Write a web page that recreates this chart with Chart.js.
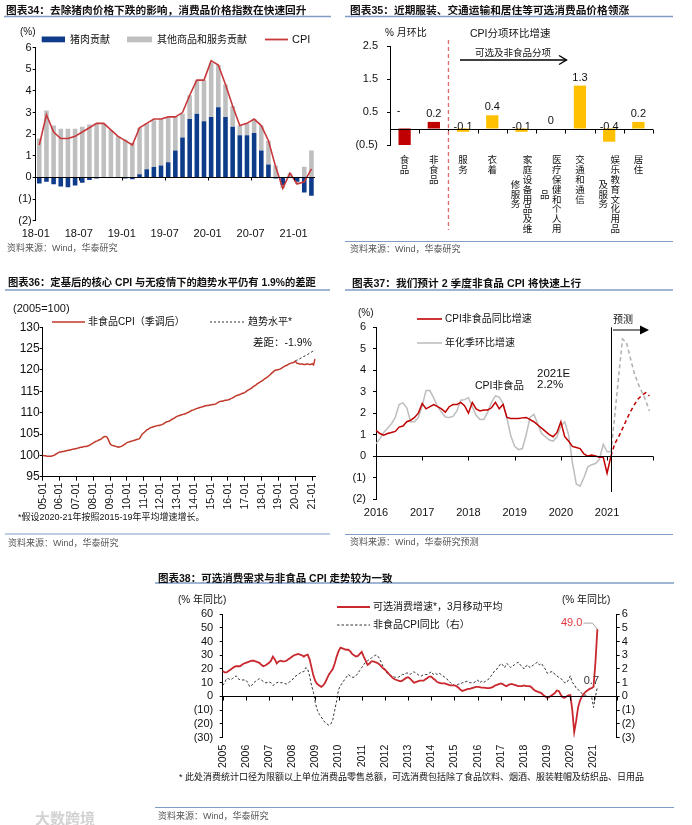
<!DOCTYPE html>
<html lang="zh-CN">
<head>
<meta charset="utf-8">
<title>CPI charts</title>
<script src="https://cdn.jsdelivr.net/npm/chart.js@4.4.1/dist/chart.umd.min.js"></script>
<style>
html,body{margin:0;padding:0;background:#fff;}
body{width:692px;height:825px;position:relative;overflow:hidden;font-family:"Liberation Sans","Noto Sans CJK SC",sans-serif;color:#111;}
canvas{position:absolute;}
.tx{position:absolute;white-space:nowrap;line-height:1;}
svg{position:absolute;left:0;top:0;}
</style>
</head>
<body>
<canvas id="c34" width="345" height="260" style="left:0;top:0;width:345px;height:260px"></canvas>
<canvas id="c35" width="347" height="260" style="left:345px;top:0;width:347px;height:260px"></canvas>
<canvas id="c36" width="345" height="265" style="left:0;top:265px;width:345px;height:265px"></canvas>
<canvas id="c37" width="347" height="265" style="left:345px;top:265px;width:347px;height:265px"></canvas>
<canvas id="c38" width="542" height="260" style="left:150px;top:565px;width:542px;height:260px"></canvas>
<svg width="692" height="825" viewBox="0 0 692 825">
  <g stroke="#7F9CC4" stroke-width="1.6">
    <line x1="4" y1="16.5" x2="331" y2="16.5"/>
    <line x1="345" y1="16.5" x2="673" y2="16.5"/>
    <line x1="5" y1="290" x2="330" y2="290"/>
    <line x1="345" y1="290" x2="673" y2="290"/>
    <line x1="155" y1="583" x2="674" y2="583"/>
  </g>
  <g stroke="#7F9CC4" stroke-width="1.2">
    <line x1="345" y1="241.5" x2="673" y2="241.5"/>
    <line x1="5" y1="534" x2="330" y2="534"/>
    <line x1="345" y1="534.5" x2="673" y2="534.5"/>
    <line x1="155" y1="807.5" x2="674" y2="807.5"/>
  </g>
  <rect x="41.7" y="36.5" width="23.3" height="5.8" fill="#0E3C8A"/>
  <rect x="127" y="36.5" width="25" height="5.8" fill="#BFBFBF"/>
  <line x1="265" y1="39.5" x2="288" y2="39.5" stroke="#C8383B" stroke-width="1.8"/>
  <line x1="460" y1="60" x2="566" y2="60" stroke="#000" stroke-width="1.4"/>
  <polyline points="559,55.5 566.5,60 559,64.5" fill="none" stroke="#000" stroke-width="1.4"/>
  <line x1="52" y1="322" x2="85" y2="322" stroke="#C0392B" stroke-width="1.5"/>
  <line x1="210" y1="322" x2="245" y2="322" stroke="#333" stroke-width="1" stroke-dasharray="2,2"/>
  <line x1="417" y1="319" x2="442" y2="319" stroke="#C00000" stroke-width="1.6"/>
  <line x1="417" y1="343" x2="442" y2="343" stroke="#BFBFBF" stroke-width="1.6"/>
  <line x1="613" y1="330" x2="642" y2="330" stroke="#000" stroke-width="1"/>
  <polygon points="649,330 640,325.5 640,334.5" fill="#000"/>
  <line x1="337" y1="607" x2="370" y2="607" stroke="#C8282E" stroke-width="1.8"/>
  <line x1="337" y1="625" x2="370" y2="625" stroke="#333" stroke-width="1" stroke-dasharray="2.5,2"/>
</svg>
<div id="texts"></div>
<script>
// ---------------- DATA ----------------
// Chart 34: monthly 2018-01 .. 2021-03
const c34Pork = [-0.28,-0.2,-0.32,-0.42,-0.45,-0.37,-0.25,-0.12,-0.05,-0.03,-0.02,-0.02,
  -0.05,-0.08,0.15,0.38,0.48,0.55,0.7,1.25,1.85,2.7,2.95,2.6,
  2.8,3.25,2.8,2.35,1.95,1.95,2.05,1.25,0.6,-0.05,-0.35,0.03,
  -0.2,-0.7,-0.85];
const c34Other = [1.8,3.1,2.4,2.25,2.25,2.25,2.35,2.45,2.5,2.5,2.2,1.9,
  1.75,1.6,2.15,2.12,2.17,2.15,2.05,1.55,1.1,1.1,1.55,1.9,
  2.5,1.95,1.5,0.95,0.45,0.55,0.65,1.15,1.1,0.55,-0.15,0.17,
  -0.1,0.5,1.25];
const c34CPI = [1.5,2.9,2.1,1.8,1.8,1.9,2.1,2.3,2.5,2.5,2.2,1.9,
  1.7,1.5,2.3,2.5,2.7,2.7,2.8,2.8,3.0,3.8,4.5,4.5,
  5.4,5.2,4.3,3.3,2.4,2.5,2.7,2.4,1.7,0.5,-0.5,0.2,
  -0.3,-0.2,0.4];

// Chart 35
const c35Cats = [['食品'],['非食品'],['服务'],['衣着'],['家庭设备用品及维','修服务'],['医疗保健和个人用','品'],['交通和通信'],['娱乐教育文化用品','及服务'],['居住']];
const c35Values = [-0.5,0.2,-0.1,0.4,-0.1,0,1.3,-0.4,0.2];
const c35ValLabels = ['-','0.2','-0.1','0.4','-0.1','0','1.3','-0.4','0.2'];

// Chart 36: non-food CPI (s.a., 2005=100), monthly 2005-01 .. 2021-03
const c36NonFood = [
  100.0,99.9,99.9,99.8,99.8,99.8,99.8,99.9,100.0,100.2,100.4,100.6,
  100.8,100.8,100.9,100.9,101.0,101.1,101.2,101.2,101.3,101.4,101.5,101.5,
  101.6,101.7,101.8,101.9,101.9,102.0,102.1,102.1,102.2,102.3,102.5,102.7,
  102.9,103.1,103.3,103.4,103.6,103.7,103.9,104.2,104.4,104.4,104.2,103.5,
  102.7,102.4,102.3,102.2,102.1,102.0,101.9,102.0,102.1,102.3,102.5,102.7,
  103.0,103.1,103.2,103.3,103.4,103.5,103.6,103.7,103.8,103.9,104.5,105.0,
  105.3,105.6,105.9,106.1,106.3,106.5,106.6,106.7,106.8,106.9,107.0,107.0,
  107.1,107.2,107.4,107.6,107.8,107.9,108.0,108.2,108.4,108.6,108.8,109.0,
  109.2,109.3,109.4,109.5,109.6,109.7,109.8,110.0,110.1,110.3,110.5,110.6,
  110.7,110.9,111.0,111.1,111.2,111.3,111.4,111.5,111.6,111.7,111.7,111.8,
  111.8,111.9,111.9,112.0,112.2,112.4,112.6,112.7,112.7,112.8,112.9,112.9,
  113.0,113.1,113.3,113.4,113.6,113.8,114.0,114.1,114.2,114.3,114.5,114.6,
  114.7,115.0,115.2,115.4,115.6,115.8,116.1,116.3,116.5,116.8,117.0,117.2,
  117.4,117.6,117.9,118.1,118.3,118.6,118.9,119.2,119.5,119.8,120.0,120.0,
  120.1,120.2,120.4,120.6,120.8,121.0,121.1,121.3,121.5,121.6,121.7,121.8,
  122.1,121.6,121.5,121.4,121.4,121.4,121.3,121.3,121.4,121.4,121.3,121.3,
  121.5,121.2,122.6];
// trend level, 2020-01 .. 2021-03
const c36Trend = [122.1,122.3,122.4,122.6,122.8,123.0,123.2,123.3,123.5,123.7,123.9,124.1,124.3,124.5,124.7];

// Chart 37: monthly 2016-01 .. 2021-02 (actual), forecasts 2021-02 .. 2021-12
const c37Yoy = [1.2,1.05,0.97,1.05,1.1,1.15,1.35,1.4,1.6,1.67,1.8,2.0,
  2.45,2.2,2.3,2.4,2.3,2.2,2.05,2.3,2.4,2.4,2.5,2.35,
  2.0,2.5,2.2,2.1,2.15,2.15,2.25,2.5,2.2,2.4,1.8,1.75,
  1.75,1.75,1.78,1.8,1.7,1.6,1.45,1.3,1.15,1.0,0.9,1.1,
  1.6,0.9,0.7,0.45,0.4,0.35,0.1,0.0,0.05,0.0,-0.05,-0.05,
  -0.8,0.0];
const c37YoyF = [0.0,0.58,0.9,1.28,1.67,2.05,2.37,2.65,2.83,2.95,2.8];
const c37Qoq = [0.58,0.8,1.1,1.3,1.5,1.8,2.4,2.48,2.25,1.6,1.6,1.8,
  2.35,3.05,3.05,2.7,2.3,2.05,1.82,1.8,1.85,2.1,2.6,2.63,
  2.72,2.3,1.9,1.7,1.7,2.05,2.5,2.8,2.75,2.45,1.75,0.95,
  0.45,0.3,0.35,1.0,1.8,1.95,1.5,1.05,0.9,0.75,0.7,0.9,
  1.4,1.6,1.0,-0.3,-1.3,-1.4,-1.0,-0.5,-0.4,-0.35,-0.15,0.55,
  0.2,0.2];
const c37QoqF = [0.2,1.9,3.7,5.45,5.3,4.6,3.9,3.4,3.0,2.6,2.1];

// Chart 38: monthly 2005-01 .. 2021-03
const c38Disc = [
  18.5,17.5,17.5,18.5,19.5,20.5,21.5,22,22,22,23,24,
  24.5,25,25.5,26,26,25.5,25,24.5,23,22,22.5,23.5,
  24.5,26,29,27,24,25.5,26,25.5,25.5,26,27,28,
  29,30,30.5,31,30.5,30,29,30,30.5,27,21,15,
  11,9,8,7,8,10,13,16,18,20,24,29,
  33,35.5,35,34.5,34,34,33,31,30,29,29.5,31,
  32.5,29,26,23,24,25.5,25.5,25,24.5,23.5,22,20.5,
  19.5,18,16.5,15,13.5,12.5,12,11.5,11,11.5,12.5,13.5,
  14,13,11.5,10,10.5,11,11.5,11.5,11.5,12.5,13.5,14.5,
  14.5,13,12,10.5,10,9.5,9.5,9.5,9,8.5,8,8,
  8,7.5,6.5,5,4,4.5,5,5.5,5.5,6,6.5,7,
  7,6.8,6.5,6.5,6.3,6,6,6.5,7,8,8.5,9,
  9.5,9,8,7.5,8.5,9,9,8.5,8,7.5,7.5,7.5,
  8,7.5,7.5,7.5,6.5,5,4,3.5,3,2.5,1,0,
  -1,-0.5,0.5,1.5,2.5,4.4,4,1.5,-0.5,-1,0,0.8,
  1,-10,-26,-18,-8,-3,0,2,3.5,4.5,5.5,6,
  7,25,49.0];
const c38CPI = [
  0.8,1.0,1.3,1.3,1.2,1.3,1.4,1.5,1.3,1.2,1.2,1.2,
  1.2,1.0,0.7,0.8,1.0,1.1,1.2,1.3,1.2,1.1,1.0,1.0,
  1.05,1.0,0.8,0.9,1.0,1.05,1.0,1.0,0.95,0.9,1.0,1.1,
  1.2,1.4,1.5,1.6,1.7,1.8,1.8,2.1,2.0,1.5,0.8,0.3,
  -0.5,-1.0,-1.3,-1.5,-1.7,-1.9,-2.0,-2.1,-2.0,-1.7,-1.0,-0.3,
  0.5,0.8,1.0,1.2,1.4,1.6,1.5,1.4,1.4,1.5,1.7,1.9,
  2.1,2.3,2.5,2.6,2.7,2.8,2.9,3.0,3.0,2.8,2.5,2.2,
  2.0,1.7,1.6,1.5,1.5,1.4,1.4,1.4,1.5,1.6,1.6,1.7,
  1.7,1.6,1.7,1.8,1.7,1.6,1.5,1.5,1.6,1.6,1.6,1.7,
  1.8,1.6,1.7,1.6,1.7,1.6,1.5,1.4,1.3,1.1,1.0,0.9,
  0.8,0.8,0.9,0.9,1.0,1.0,1.1,1.1,1.0,1.0,1.0,1.1,
  1.2,1.0,1.1,1.0,1.1,1.2,1.3,1.5,1.7,1.9,2.0,2.2,
  2.4,2.3,2.1,2.4,2.3,2.1,2.2,2.3,2.4,2.5,2.3,2.2,
  2.0,2.2,2.3,2.1,2.2,2.3,2.4,2.5,2.3,2.4,2.2,2.0,
  1.7,1.7,1.8,1.8,1.6,1.5,1.4,1.3,1.2,1.0,1.0,1.2,
  1.5,1.0,0.9,0.6,0.5,0.4,0.2,0.1,0.1,0.0,0.0,0.0,
  -0.8,0.0,0.7];

// ---------------- TICK LABELS ----------------
function months(y0, m0, n, short){
  const out=[]; let y=y0, m=m0;
  for(let i=0;i<n;i++){
    const mm=(m<10?'0':'')+m;
    out.push(short ? String(y).slice(2)+'-'+mm : y+'-'+mm);
    m++; if(m>12){m=1;y++;}
  }
  return out;
}
const c34Months = months(2018,1,39,true);
const c36Months = months(2005,1,195,true);
const c37Months = months(2016,1,73,false);
const c38Months = months(2005,1,205,false);

// ---------------- HELPERS ----------------
const FONT = '"Liberation Sans","Noto Sans CJK SC",sans-serif';
Chart.defaults.font.family = FONT;
Chart.defaults.color = '#111';
const fmtNeg = v => v < 0 ? '(' + Math.abs(v) + ')' : String(v);

function yAxis(o){
  return Object.assign({
    min:o.min, max:o.max,
    ticks:{stepSize:o.step, autoSkip:false, padding:o.pad, font:{size:o.size||11}, color:'#111', callback:o.cb||fmtNeg},
    grid:{display:true, drawOnChartArea:false, drawTicks:true, tickLength:3, color:'#000'},
    border:{display:true, color:'#000', width:1},
    afterFit: s => { s.width = o.w; }
  }, o.extra||{});
}
function zeroAxis(id, idx, mode, len){
  return {id, afterDatasetsDraw(chart){
    const xs=chart.scales.x, ys=chart.scales.y, ca=chart.chartArea, ctx=chart.ctx;
    const y0=Math.round(ys.getPixelForValue(0))+0.5;
    const n=chart.data.labels.length, cw=(ca.right-ca.left)/n;
    ctx.save(); ctx.strokeStyle='#000'; ctx.lineWidth=1; ctx.beginPath();
    ctx.moveTo(ca.left,y0); ctx.lineTo(ca.right,y0);
    idx.forEach(i=>{
      let px = mode==='boundary' ? ca.left + i*cw : xs.getPixelForValue(i);
      px=Math.round(px)+0.5; ctx.moveTo(px,y0); ctx.lineTo(px,y0+len);
    });
    ctx.stroke(); ctx.restore();
  }};
}
const base = {responsive:false, animation:false, maintainAspectRatio:false,
  plugins:{legend:{display:false}, tooltip:{enabled:false}}};

// ---------------- CHART 34 ----------------
new Chart(document.getElementById('c34'), {
  type:'bar',
  data:{labels:c34Months, datasets:[
    {type:'line', label:'CPI', data:c34CPI, borderColor:'#C8383B', borderWidth:1.6, pointRadius:0, tension:0, stack:'cpi'},
    {label:'猪肉贡献', data:c34Pork, backgroundColor:'#0E3C8A', stack:'s', barPercentage:0.64, categoryPercentage:1},
    {label:'其他商品和服务贡献', data:c34Other, backgroundColor:'#BFBFBF', stack:'s', barPercentage:0.64, categoryPercentage:1}
  ]},
  options:Object.assign({}, base, {
    layout:{padding:{left:0, top:47.7, right:30, bottom:0}},
    scales:{
      x:{stacked:true, grid:{display:false, drawTicks:false}, border:{display:false},
         ticks:{autoSkip:false, maxRotation:0, minRotation:0, padding:7, labelOffset:-3.5, font:{size:11}, color:'#111',
           callback:(v,i)=> i%6===0 ? c34Months[i] : null},
         afterFit:s=>{s.height=39.3;}},
      y:yAxis({min:-2, max:6, step:1, pad:1, w:35.7, extra:{stacked:true}})
    }
  }),
  plugins:[zeroAxis('z34',[6,12,18,24,30,36],'boundary',3)]
});

// ---------------- CHART 35 ----------------
const c35Plugin = {id:'c35', afterDatasetsDraw(chart){
  const ctx=chart.ctx, meta=chart.getDatasetMeta(0), ys=chart.scales.y, ca=chart.chartArea;
  const y0=ys.getPixelForValue(0);
  const n=c35Values.length, cw=(ca.right-ca.left)/n;
  ctx.save();
  ctx.strokeStyle='#000'; ctx.lineWidth=1; ctx.beginPath();
  const yz=Math.round(y0)+0.5;
  ctx.moveTo(ca.left,yz); ctx.lineTo(ca.right,yz);
  for(let i=1;i<=n;i++){ const px=Math.round(ca.left+i*cw)+0.5; ctx.moveTo(px,yz); ctx.lineTo(px,yz+4); }
  ctx.stroke();
  const xd=(meta.data[1].x+meta.data[2].x)/2;
  ctx.strokeStyle='#E06A6A'; ctx.lineWidth=1.3; ctx.setLineDash([4,3]);
  ctx.beginPath(); ctx.moveTo(xd,40); ctx.lineTo(xd,230); ctx.stroke(); ctx.setLineDash([]);
  ctx.font='11px '+FONT; ctx.fillStyle='#111'; ctx.textAlign='center'; ctx.textBaseline='alphabetic';
  c35Values.forEach((v,i)=>{
    const x=meta.data[i].x;
    if(i===0){ ctx.fillText(c35ValLabels[i], x-6, y0-15); return; }
    const y = v>=0 ? ys.getPixelForValue(v)-5 : y0+1;
    ctx.fillText(c35ValLabels[i], x, y);
  });
  ctx.font='9.5px "Noto Sans CJK SC",sans-serif'; ctx.textBaseline='top';
  const lh=9.8, top=155;
  c35Cats.forEach((cols,i)=>{
    const x=meta.data[i].x;
    const maxLen=Math.max(...cols.map(c=>c.length));
    cols.forEach((col,k)=>{
      const cx = cols.length===1 ? x : (k===0 ? x+6 : x-6);
      const sy = top + (maxLen-col.length)*lh/2;
      [...col].forEach((ch,j)=> ctx.fillText(ch, cx, sy+j*lh));
    });
  });
  ctx.restore();
}};
new Chart(document.getElementById('c35'), {
  type:'bar',
  data:{labels:c35Cats.map(c=>c.join('')), datasets:[
    {data:c35Values, backgroundColor:c35Values.map((v,i)=> i<2 ? '#C00000' : '#FFC000'), barPercentage:0.42, categoryPercentage:1}
  ]},
  options:Object.assign({}, base, {
    layout:{padding:{left:0, top:46, right:39, bottom:0}},
    scales:{
      x:{grid:{display:false, drawTicks:false}, border:{display:false}, ticks:{display:false}, afterFit:s=>{s.height=115;}},
      y:yAxis({min:-0.5, max:2.5, step:1, pad:9, w:45})
    }
  }),
  plugins:[c35Plugin]
});

// ---------------- CHART 36 ----------------
new Chart(document.getElementById('c36'), {
  type:'line',
  data:{labels:c36Months, datasets:[
    {label:'非食品CPI（季调后）', data:c36NonFood, borderColor:'#C0392B', borderWidth:1.5, pointRadius:0, tension:0},
    {label:'趋势水平*', data:Array(180).fill(null).concat(c36Trend), borderColor:'#333', borderWidth:1, borderDash:[2.5,2], pointRadius:0, tension:0}
  ]},
  options:Object.assign({}, base, {
    layout:{padding:{left:0, top:62.3, right:30, bottom:0}},
    scales:{
      x:{grid:{display:true, drawOnChartArea:false, drawTicks:true, tickLength:4, color:'#000'}, border:{display:true, color:'#000'},
         ticks:{autoSkip:false, minRotation:90, maxRotation:90, padding:2, font:{size:10.5}, color:'#111',
           callback:(v,i)=> i%12===0 ? c36Months[i] : null},
         afterFit:s=>{s.height=53.3;}},
      y:yAxis({min:95, max:130, step:5, pad:0, w:42.7, size:12})
    }
  })
});

// ---------------- CHART 37 ----------------
const c37Plugin = {id:'c37', afterDatasetsDraw(chart){
  const ctx=chart.ctx, xs=chart.scales.x, ca=chart.chartArea;
  const px=Math.round(xs.getPixelForValue(c37Yoy.length-1))+0.5;
  ctx.save(); ctx.strokeStyle='#000'; ctx.lineWidth=1;
  ctx.beginPath(); ctx.moveTo(px, ca.top); ctx.lineTo(px, ca.bottom-7); ctx.stroke(); ctx.restore();
}};
const pad37 = Array(c37Yoy.length-1).fill(null);
new Chart(document.getElementById('c37'), {
  type:'line',
  data:{labels:c37Months, datasets:[
    {label:'CPI非食品同比增速', data:c37Yoy, borderColor:'#C00000', borderWidth:1.5, pointRadius:0, tension:0},
    {label:'CPI非食品同比增速(预测)', data:pad37.concat(c37YoyF), borderColor:'#C00000', borderWidth:1.5, borderDash:[4,3], pointRadius:0, tension:0},
    {label:'年化季环比增速', data:c37Qoq, borderColor:'#BDBDBD', borderWidth:1.5, pointRadius:0, tension:0},
    {label:'年化季环比增速(预测)', data:pad37.concat(c37QoqF), borderColor:'#AFAFAF', borderWidth:1.5, borderDash:[4,3], pointRadius:0, tension:0}
  ]},
  options:Object.assign({}, base, {
    layout:{padding:{left:0, top:62.3, right:38.7, bottom:0}},
    scales:{
      x:{grid:{display:false, drawTicks:false}, border:{display:false},
         ticks:{autoSkip:false, maxRotation:0, minRotation:0, padding:7, font:{size:11}, color:'#111',
           callback:(v,i)=> (i%12===0 && i<72) ? c37Months[i].slice(0,4) : null},
         afterFit:s=>{s.height=31;}},
      y:yAxis({min:-2, max:6, step:1, pad:7, w:31})
    }
  }),
  plugins:[zeroAxis('z37',[0,12,24,36,48,60,72],'point',4), c37Plugin]
});

// ---------------- CHART 38 ----------------
const c38Plugin = {id:'c38', afterDatasetsDraw(chart){
  const ctx=chart.ctx, m0=chart.getDatasetMeta(0), m1=chart.getDatasetMeta(1);
  const last=c38Disc.length-1, p=m0.data[last], q=m1.data[last];
  ctx.save();
  ctx.strokeStyle='#A8A8A8'; ctx.lineWidth=1; ctx.beginPath();
  ctx.moveTo(p.x-14,p.y-6); ctx.lineTo(p.x-5,p.y-6); ctx.lineTo(p.x,p.y); ctx.stroke();
  ctx.font='11px '+FONT; ctx.textBaseline='middle';
  ctx.fillStyle='#E23A3F'; ctx.textAlign='right'; ctx.fillText(c38Disc[last].toFixed(1), p.x-15, p.y-6);
  ctx.fillStyle='#333'; ctx.textAlign='center'; ctx.fillText(c38CPI[last].toFixed(1), q.x-6, q.y-6);
  ctx.restore();
}};
new Chart(document.getElementById('c38'), {
  type:'line',
  data:{labels:c38Months, datasets:[
    {label:'可选消费增速*，3月移动平均', data:c38Disc, yAxisID:'y', borderColor:'#C8282E', borderWidth:1.8, pointRadius:0, tension:0},
    {label:'非食品CPI同比（右）', data:c38CPI, yAxisID:'y1', borderColor:'#333', borderWidth:1, borderDash:[2.5,2], pointRadius:0, tension:0}
  ]},
  options:Object.assign({}, base, {
    layout:{padding:{left:0, top:49, right:0, bottom:0}},
    scales:{
      x:{grid:{display:false, drawTicks:false}, border:{display:false},
         ticks:{autoSkip:false, minRotation:90, maxRotation:90, padding:7, font:{size:10.5}, color:'#111',
           callback:(v,i)=> (i%12===0 && i<204) ? c38Months[i].slice(0,4) : null},
         afterFit:s=>{s.height=87.3;}},
      y:yAxis({min:-30, max:60, step:10, pad:6.5, w:72.7, extra:{position:'left'}}),
      y1:yAxis({min:-3, max:6, step:1, pad:2, w:75.3, extra:{position:'right'}})
    }
  }),
  plugins:[zeroAxis('z38',[0,12,24,36,48,60,72,84,96,108,120,132,144,156,168,180,192,204],'point',4), c38Plugin]
});

// ---------------- TEXTS ----------------
const T = [
  [6,10,'图表34：去除猪肉价格下跌的影响，消费品价格指数在快速回升',10.7,'font-weight:bold'],
  [350,10,'图表35：近期服装、交通运输和居住等可选消费品价格领涨',10.7,'font-weight:bold'],
  [8,283,'图表36：定基后的核心 CPI 与无疫情下的趋势水平仍有 1.9%的差距',10.3,'font-weight:bold'],
  [352,283,'图表37：我们预计 2 季度非食品 CPI 将快速上行',10.7,'font-weight:bold'],
  [158,578,'图表38：可选消费需求与非食品 CPI 走势较为一致',10.5,'font-weight:bold'],
  [7,248,'资料来源：Wind，华泰研究',9,'color:#555'],
  [350,249,'资料来源：Wind，华泰研究',9,'color:#555'],
  [8,543,'资料来源：Wind，华泰研究',9,'color:#555'],
  [350,542,'资料来源：Wind，华泰研究预测',9,'color:#555'],
  [158,816,'资料来源：Wind，华泰研究',9,'color:#555'],
  [20,32,'(%)',10,''],
  [70,39.5,'猪肉贡献',10,''],
  [157,39.5,'其他商品和服务贡献',10,''],
  [292,39.5,'CPI',11,''],
  [385,33,'% 月环比',10,''],
  [470,33,'CPI分项环比增速',10.5,''],
  [475,53,'可选及非食品分项',9.5,''],
  [13,308,'(2005=100)',11,''],
  [88,322,'非食品CPI（季调后）',10,''],
  [248,322,'趋势水平*',10,''],
  [253,342,'差距：-1.9%',10.5,''],
  [18,517,'*假设2020-21年按照2015-19年平均增速增长。',9,''],
  [358,313,'(%)',10,''],
  [445,319,'CPI非食品同比增速',10,''],
  [445,343,'年化季环比增速',10,''],
  [537,374,'2021E',11.5,''],
  [475,385,'CPI非食品',10.5,''],
  [537,385,'2.2%',11.5,''],
  [613,320,'预测',10,''],
  [178,600,'(% 年同比)',10,''],
  [562,600,'(% 年同比)',10,''],
  [373,607,'可选消费增速*，3月移动平均',10,''],
  [373,625,'非食品CPI同比（右）',10,''],
  [179,777,'* 此处消费统计口径为限额以上单位消费品零售总额，可选消费包括除了食品饮料、烟酒、服装鞋帽及纺织品、日用品',9,''],
  [35,818,'大数跨境',15,'color:#d2d2d2;font-weight:bold']
];
const holder=document.getElementById('texts');
T.forEach(([x,cy,s,sz,st])=>{
  const d=document.createElement('div');
  d.className='tx'; d.textContent=s;
  d.style.cssText='left:'+x+'px;top:'+(cy-sz/2)+'px;font-size:'+sz+'px;'+st;
  holder.appendChild(d);
});
</script>
</body>
</html>
